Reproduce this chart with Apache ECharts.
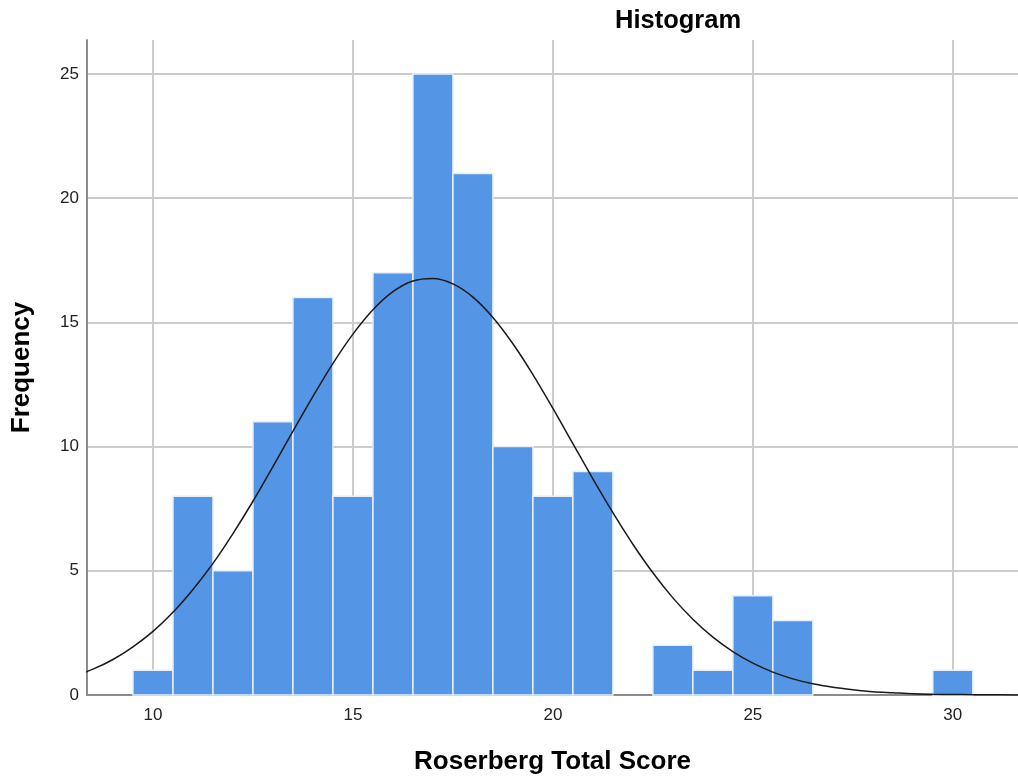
<!DOCTYPE html>
<html>
<head>
<meta charset="utf-8">
<script src="https://cdn.jsdelivr.net/npm/echarts@6/dist/echarts.min.js"></script>
<style>html,body{margin:0;padding:0;background:#fff;}#c{width:1018px;height:781px;}</style>
</head>
<body>
<div id="c"></div>
<script>
// Histogram bins (centres) and counts
const binCenters = [10, 11, 12, 13, 14, 15, 16, 17, 18, 19, 20, 21, 22, 23, 24, 25, 26, 27, 28, 29, 30];
const frequencies = [1, 8, 5, 11, 16, 8, 17, 25, 21, 10, 8, 9, 0, 2, 1, 4, 3, 0, 0, 0, 1];
// Normal curve
const curveX = [8, 8.5, 9, 9.5, 10, 10.5, 11, 11.5, 12, 12.5, 13, 13.5, 14, 14.5, 15, 15.5, 16, 16.5, 17, 17.5, 18, 18.5, 19, 19.5, 20, 20.5, 21, 21.5, 22, 22.5, 23, 23.5, 24, 24.5, 25, 25.5, 26, 26.5, 27, 27.5, 28, 28.5, 29, 29.5, 30, 30.5, 31, 31.5, 32];
const curveY = [0.74, 1.04, 1.43, 1.94, 2.56, 3.33, 4.25, 5.30, 6.50, 7.80, 9.19, 10.62, 12.02, 13.35, 14.53, 15.51, 16.24, 16.67, 16.77, 16.55, 16.02, 15.20, 14.14, 12.90, 11.54, 10.12, 8.70, 7.34, 6.07, 4.92, 3.91, 3.05, 2.33, 1.75, 1.28, 0.92, 0.65, 0.45, 0.31, 0.21, 0.13, 0.09, 0.05, 0.03, 0.02, 0.012, 0.007, 0.004, 0.002];
const xTicks = [10, 15, 20, 25, 30];
const yTicks = [0, 5, 10, 15, 20, 25];
const titleText = 'Histogram';
const xName = 'Roserberg Total Score';
const yName = 'Frequency';

const FONT = '"Liberation Sans", Arial, sans-serif';
const chart = echarts.init(document.getElementById('c'), null, {renderer: 'canvas'});

const barData = binCenters.map((c, i) => [c, frequencies[i]]).filter(d => d[1] > 0);
const curveData = curveX.map((x, i) => [x, curveY[i]]);

chart.setOption({
  animation: false,
  backgroundColor: '#ffffff',
  title: {
    text: titleText,
    left: 610, top: 3,
    textStyle: {fontFamily: FONT, fontSize: 25.5, fontWeight: 'bold', color: '#000'}
  },
  grid: {left: 87, right: 0, top: 40, bottom: 86, containLabel: false},
  xAxis: {
    type: 'value', min: 8.35, max: 31.63,
    name: xName, nameLocation: 'middle', nameGap: 54,
    nameTextStyle: {fontFamily: FONT, fontSize: 26, fontWeight: 'bold', color: '#000'},
    axisLine: {show: true, onZero: false, lineStyle: {color: '#8c8c8c', width: 2}},
    axisTick: {show: false, customValues: xTicks},
    axisLabel: {customValues: xTicks, margin: 12, fontFamily: FONT, fontSize: 17, color: '#222'},
    splitLine: {show: true, lineStyle: {color: '#cccccc', width: 2}}
  },
  yAxis: {
    type: 'value', min: 0, max: 26.37,
    name: yName, nameLocation: 'middle', nameGap: 52,
    nameTextStyle: {fontFamily: FONT, fontSize: 26, fontWeight: 'bold', color: '#000'},
    axisLine: {show: true, lineStyle: {color: '#8c8c8c', width: 2}},
    axisTick: {show: false, customValues: yTicks},
    axisLabel: {customValues: yTicks, margin: 8, fontFamily: FONT, fontSize: 17, color: '#222'},
    splitLine: {show: true, lineStyle: {color: '#cccccc', width: 2}}
  },
  series: [
    {
      type: 'custom',
      data: barData,
      renderItem: function (params, api) {
        const x = api.value(0), y = api.value(1);
        const p0 = api.coord([x - 0.5, 0]);
        const p1 = api.coord([x + 0.5, y]);
        return {
          type: 'rect',
          shape: {x: p0[0], y: p1[1], width: p1[0] - p0[0], height: p0[1] - p1[1]},
          style: {fill: '#5595e5', stroke: '#e6effa', lineWidth: 1.5}
        };
      },
      encode: {x: 0, y: 1},
      z: 2
    },
    {
      type: 'line',
      data: curveData,
      smooth: 0.3,
      showSymbol: false,
      symbol: 'none',
      lineStyle: {color: '#1a1a1a', width: 1.5},
      clip: true,
      z: 3
    }
  ]
});
</script>
</body>
</html>
